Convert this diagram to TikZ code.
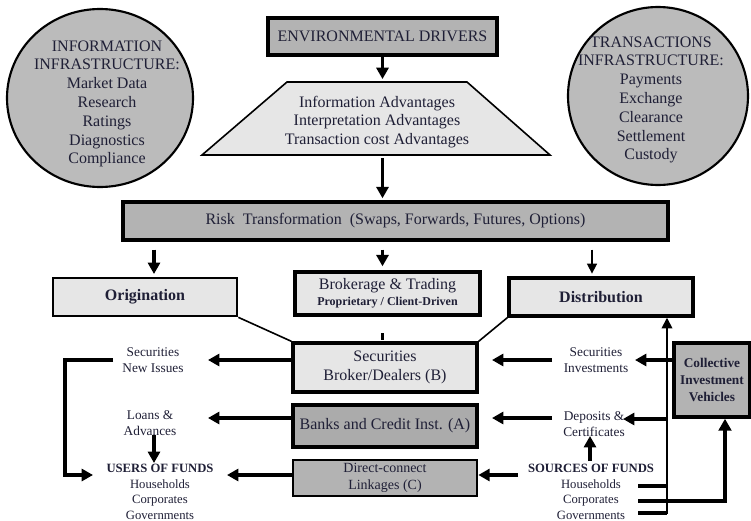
\documentclass[tikz,border=0pt]{standalone}
\usepackage{fontspec}
\setmainfont{Liberation Serif}
\usetikzlibrary{arrows.meta,shapes.geometric}
\definecolor{dk}{HTML}{B3B3B3}
\definecolor{dk2}{HTML}{ABABAB}
\definecolor{lt}{HTML}{E6E6E6}
\definecolor{el}{HTML}{BBBBBB}
\definecolor{ink}{HTML}{1F1F36}
\begin{document}
\begin{tikzpicture}[x=0.75pt,y=-0.75pt,
  every node/.style={text=ink, align=center, inner sep=0pt},
  box/.style={draw=black, inner sep=0pt},
  span/.style args={#1/#2/#3/#4}{minimum width={(#3-#1)*0.75pt}, minimum height={(#4-#2)*0.75pt}},
  heavy/.style={line width=2.6pt},
  mid/.style={line width=2pt},
  arr/.style={line width=2.4pt, -{Triangle[length=8.5pt,width=9pt]}},
  arrthin/.style={line width=1.2pt, -{Triangle[length=7.5pt,width=7.5pt]}},
  ln/.style={line width=2.4pt},
  lnheavy/.style={line width=3.4pt},
  tA/.style={font=\fontsize{12}{14.1}\selectfont},
  tB/.style={font=\fontsize{12}{13.9}\selectfont},
  tS/.style={font=\fontsize{10}{11.6}\selectfont},
  tU/.style={font=\fontsize{9.5}{11.7}\selectfont},
  tD/.style={font=\fontsize{10.5}{12.7}\selectfont},
  tC/.style={font=\fontsize{10}{12.4}\selectfont\bfseries}]
\useasboundingbox (0,0) rectangle (751,521);

% ellipses
\node[ellipse, draw=black, line width=1.6pt, fill=el, minimum width=139.5pt, minimum height=133.5pt] (infoell) at (100,98) {};
\node[tA] (infotxt) at (107,104) {INFORMATION\\INFRASTRUCTURE:\\Market Data\\Research\\Ratings\\Diagnostics\\Compliance};
\node[ellipse, draw=black, line width=1.6pt, fill=el, minimum width=135pt, minimum height=133.5pt] (transell) at (658,96) {};
\node[tA] (transtxt) at (651,100) {TRANSACTIONS\\INFRASTRUCTURE:\\Payments\\Exchange\\Clearance\\Settlement\\Custody};

% top
\node[box, heavy, fill=dk, span=268/18/497/55, tA] (env) at (382.5,36.5) {ENVIRONMENTAL DRIVERS};
\node[span=202/82/550/155] (trap) at (376,118.5) {};
\draw[fill=lt, line width=1.2pt] (287,82) -- (467,82) -- (550,155) -- (202,155) -- cycle;
\node[tB] (traptxt) at (377,122) {Information Advantages\\Interpretation Advantages\\Transaction cost Advantages};
\draw[arr, shorten >=2pt] (env.south) -- (env.south |- trap.north);

\node[box, heavy, fill=dk, span=123/202/668/240, tA] (risk) at (395.5,221) {Risk\ \ Transformation\ \ (Swaps, Forwards, Futures, Options)};
\draw[arr, shorten <=2pt, shorten >=1.5pt] (env.south |- trap.south) -- (env.south |- risk.north);

% second row
\node[box, mid, fill=lt, span=53/278/237/316, font=\fontsize{12}{14}\selectfont\bfseries] (orig) at (145,297) {Origination};
\node[box, heavy, fill=lt, span=295/272/480/315] (brok) at (387.5,293.5) {\fontsize{12}{12}\selectfont Brokerage \& Trading\\[0pt]{\fontsize{9}{10}\selectfont\bfseries Proprietary / Client-Driven}};
\node[box, heavy, fill=lt, span=509/278/693/316, font=\fontsize{12}{14}\selectfont\bfseries] (dist) at (601,297) {Distribution};

\coordinate (xL) at (154,0);
\coordinate (xR) at (592,0);
\draw[arr, shorten <=6pt, shorten >=2pt] (risk.south -| xL) -- (orig.north -| xL);
\draw[arr, shorten <=6pt, shorten >=3pt] (risk.south -| env.south) -- (brok.north -| env.south);
\draw[arrthin, shorten <=6pt, shorten >=2pt] (risk.south -| xR) -- (dist.north -| xR);

% institutions
\node[box, heavy, fill=lt, span=293/343/477/392, font=\fontsize{12}{14.25}\selectfont] (secB) at (385,367.5) {Securities\\Broker/Dealers (B)};
\node[box, heavy, fill=dk2, span=293/405/477/447, tA] (banks) at (385,426) {Banks and Credit Inst. (A)};
\node[box, mid, fill=dk, span=293/460/477/496, tD] (direct) at (385,478) {Direct-connect\\Linkages (C)};

\draw[line width=1.2pt] (orig.south east) -- (secB.north west);
\draw[line width=1.2pt] (dist.south west) -- (secB.north east);
\draw[ln, shorten <=1pt, shorten >=12.5pt] (secB.north -| env.south) -- (brok.south -| env.south);

% left side
\node[tS] (secni) at (153,360) {Securities\\New Issues};
\node[font=\fontsize{10}{12}\selectfont] (loans) at (150,423) {Loans \&\\Advances};
\node[tU] (users) at (160,492) {{\bfseries USERS OF FUNDS}\\Households\\Corporates\\Governments};

\coordinate (tipA) at (208,360);
\coordinate (tipB) at (208,418);
\coordinate (tipC) at (227,475);
\draw[arr] (secB.west |- tipA) -- (tipA);
\draw[arr] (banks.west |- tipB) -- (tipB);
\draw[arr] (direct.west |- tipC) -- (tipC);

\coordinate (brS) at (113,360);
\coordinate (brE) at (93,475);
\draw[arr] (brS) -- ++(-48,0) |- (brE);
\coordinate (laS) at (154,435);
\coordinate (laE) at (154,463);
\draw[arr] (laS) -- (laE);

% right side
\node[tS] (secinv) at (596,360) {Securities\\Investments};
\node[font=\fontsize{10}{12}\selectfont] (depo) at (594,424) {Deposits \&\\Certificates};
\node[tU] (sources) at (591,492) {{\bfseries SOURCES OF FUNDS}\\Households\\Corporates\\Governments};

\node[box, heavy, fill=dk, span=674/343/750/417, tC] (civ) at (712,380) {Collective\\Investment\\Vehicles};

\coordinate (rA0) at (552,360);
\coordinate (rA1) at (492,360);
\coordinate (rB0) at (552,418);
\coordinate (rB1) at (492,418);
\coordinate (rC0) at (518,475);
\draw[arr] (rA0) -- (rA1);
\draw[arr] (rB0) -- (rB1);
\draw[arr] (rC0) -- (direct.east |- rC0);
\coordinate (upS) at (590,461);
\coordinate (upE) at (590,436);
\draw[arr] (upS) -- (upE);

% vertical feed
\coordinate (vb) at (667,514);
\draw[line width=1.3pt, -{Triangle[length=8pt,width=8pt]}] (vb) -- (dist.south -| vb);
\coordinate (ciA) at (635,360);
\draw[arr] (civ.west |- ciA) -- (ciA);
\coordinate (dpA) at (623,419);
\draw[arr] (vb |- dpA) -- (dpA);
\coordinate (hh) at (638,486);
\coordinate (cp) at (638,501);
\coordinate (gv) at (638,513);
\coordinate (xc) at (725,0);
\draw[ln] (hh) -- (vb |- hh);
\draw[lnheavy] (gv) -- (vb |- gv);
\draw[lnheavy, -{Triangle[length=9pt,width=9.5pt]}] (cp) -| (civ.south -| xc);
\end{tikzpicture}
\end{document}
